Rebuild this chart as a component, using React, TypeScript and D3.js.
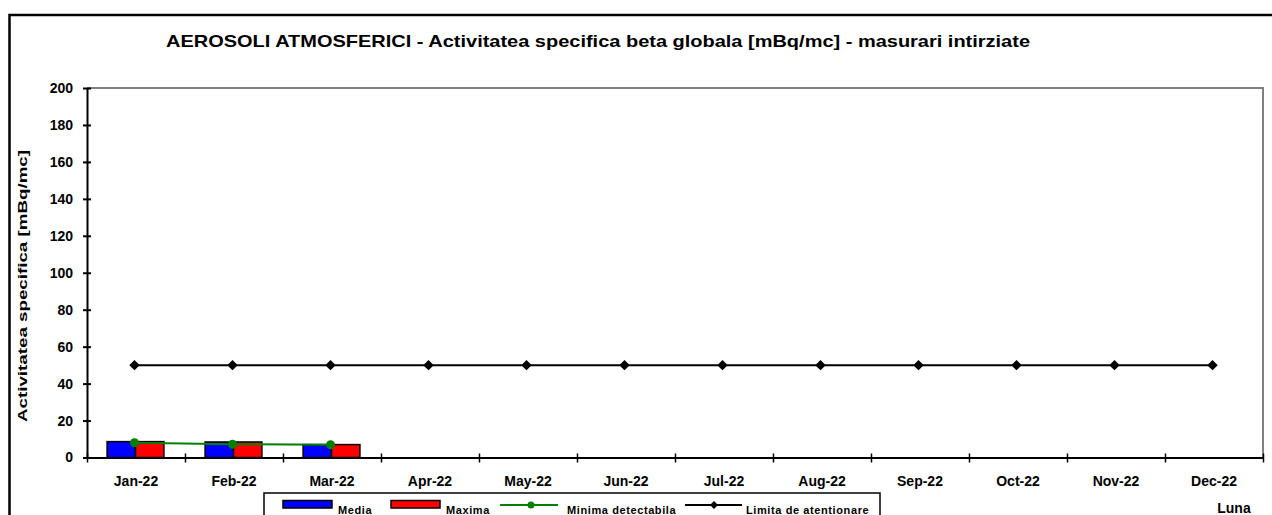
import { useEffect, useRef } from "react";
import * as d3 from "d3";

const months = ["Jan-22", "Feb-22", "Mar-22", "Apr-22", "May-22", "Jun-22", "Jul-22", "Aug-22", "Sep-22", "Oct-22", "Nov-22", "Dec-22"];
const media = [8.6, 8.4, 7.0];
const maxima = [8.6, 8.4, 7.0];
const minimaDetectabila = [8.0, 7.2, 6.9];
const limita = [50, 50, 50, 50, 50, 50, 50, 50, 50, 50, 50, 50];
const yTicks = [0, 20, 40, 60, 80, 100, 120, 140, 160, 180, 200];

const FONT = "Arial, 'Liberation Sans', sans-serif";

const App = () => {
  const svgRef = useRef<SVGSVGElement | null>(null);
  const W = 1272;
  const H = 515;
  const plot = { left: 87, right: 1263, top: 88, bottom: 457.5 };

  useEffect(() => {
    const svg = d3.select(svgRef.current);
    svg.selectAll("*").remove();

    svg.append("rect").attr("width", W).attr("height", H).attr("fill", "#fff");

    // outer chart border
    svg.append("rect")
      .attr("x", 9.5).attr("y", 15)
      .attr("width", W + 20).attr("height", H + 20)
      .attr("fill", "none").attr("stroke", "#000").attr("stroke-width", 2.5);

    const x = d3.scaleBand().domain(months).range([plot.left, plot.right]).paddingInner(0).paddingOuter(0);
    const inner = d3.scaleBand().domain(["media", "maxima"]).range([x.bandwidth() * 0.205, x.bandwidth() * 0.785]);
    const y = d3.scaleLinear().domain([0, 200]).range([plot.bottom, plot.top]);

    // plot area frame (grey top + right)
    svg.append("path")
      .attr("d", `M${plot.left},${plot.top}H${plot.right}V${plot.bottom}`)
      .attr("fill", "none").attr("stroke", "#808080").attr("stroke-width", 2);

    // title
    svg.append("text")
      .attr("x", 166).attr("y", 47)
      .attr("font-family", FONT).attr("font-weight", "bold").attr("font-size", 17)
      .attr("textLength", 864).attr("lengthAdjust", "spacingAndGlyphs")
      .text("AEROSOLI  ATMOSFERICI - Activitatea specifica beta globala [mBq/mc] - masurari intirziate");

    // y label
    svg.append("text")
      .attr("transform", "translate(27,286) rotate(-90)")
      .attr("text-anchor", "middle")
      .attr("font-family", FONT).attr("font-weight", "bold").attr("font-size", 13)
      .attr("textLength", 272).attr("lengthAdjust", "spacingAndGlyphs")
      .text("Activitatea  specifica  [mBq/mc]");

    // bars
    const bars = svg.append("g");
    media.forEach((v, i) => {
      bars.append("rect")
        .attr("x", x(months[i])! + inner("media")!)
        .attr("y", y(v)).attr("width", inner.bandwidth()).attr("height", y(0) - y(v))
        .attr("fill", "#0000FF").attr("stroke", "#000").attr("stroke-width", 1.5);
    });
    maxima.forEach((v, i) => {
      bars.append("rect")
        .attr("x", x(months[i])! + inner("maxima")!)
        .attr("y", y(v)).attr("width", inner.bandwidth()).attr("height", y(0) - y(v))
        .attr("fill", "#FF0000").attr("stroke", "#000").attr("stroke-width", 1.5);
    });

    const cx = (i: number) => x(months[i])! + x.bandwidth() / 2 - 1.5;

    // limita de atentionare
    const line = d3.line<number>().x((_, i) => cx(i)).y(d => y(d));
    svg.append("path").attr("d", line(limita)!).attr("fill", "none").attr("stroke", "#000").attr("stroke-width", 2);
    svg.append("g").selectAll("path").data(limita).join("path")
      .attr("d", d3.symbol(d3.symbolDiamond2, 70)() as string)
      .attr("transform", (d, i) => `translate(${cx(i)},${y(d)})`)
      .attr("fill", "#000");

    // minima detectabila
    svg.append("path").attr("d", line(minimaDetectabila)!).attr("fill", "none").attr("stroke", "#008000").attr("stroke-width", 2);
    svg.append("g").selectAll("circle").data(minimaDetectabila).join("circle")
      .attr("cx", (d, i) => cx(i)).attr("cy", d => y(d)).attr("r", 4.5).attr("fill", "#008000");

    // y axis
    const yAxis = svg.append("g").attr("transform", `translate(${plot.left},0)`)
      .call(d3.axisLeft(y).tickValues(yTicks).tickSize(4).tickSizeOuter(0).tickPadding(10));
    yAxis.select(".domain").attr("stroke", "#000").attr("stroke-width", 2);
    yAxis.selectAll(".tick line").attr("x2", 4).attr("x1", -4).attr("stroke-width", 2);
    yAxis.selectAll(".tick text")
      .attr("font-family", FONT).attr("font-weight", "bold").attr("font-size", 14).attr("fill", "#000");

    // x axis
    const xLin = d3.scaleLinear().domain([0, months.length]).range([plot.left, plot.right]);
    const xAxis = svg.append("g").attr("transform", `translate(0,${plot.bottom})`)
      .call(d3.axisBottom(xLin).ticks(months.length).tickValues(d3.range(months.length + 1)).tickFormat(() => "").tickSize(4).tickSizeOuter(0));
    xAxis.select(".domain").attr("stroke", "#000").attr("stroke-width", 2);
    xAxis.selectAll(".tick line").attr("y1", -4).attr("y2", 5).attr("stroke-width", 1.5);

    svg.append("g").selectAll("text").data(months).join("text")
      .attr("x", d => x(d)! + x.bandwidth() / 2)
      .attr("y", 486)
      .attr("text-anchor", "middle")
      .attr("font-family", FONT).attr("font-weight", "bold").attr("font-size", 14)
      .text(d => d);

    svg.append("text")
      .attr("x", 1234).attr("y", 513).attr("text-anchor", "middle")
      .attr("font-family", FONT).attr("font-weight", "bold").attr("font-size", 14)
      .text("Luna");

    // legend
    const lg = svg.append("g");
    lg.append("rect").attr("x", 264).attr("y", 493).attr("width", 616).attr("height", 40)
      .attr("fill", "#fff").attr("stroke", "#000").attr("stroke-width", 1.5);
    const legendFont = (t: d3.Selection<SVGTextElement, unknown, null, undefined>) =>
      t.attr("font-family", FONT).attr("font-weight", "bold").attr("font-size", 11).attr("letter-spacing", 0.6);

    lg.append("rect").attr("x", 283).attr("y", 500.5).attr("width", 49).attr("height", 7.5)
      .attr("fill", "#0000FF").attr("stroke", "#000").attr("stroke-width", 1.5);
    lg.append("text").attr("x", 338).attr("y", 514).call(legendFont).text("Media");

    lg.append("rect").attr("x", 391).attr("y", 500.5).attr("width", 49).attr("height", 7.5)
      .attr("fill", "#FF0000").attr("stroke", "#000").attr("stroke-width", 1.5);
    lg.append("text").attr("x", 446).attr("y", 514).call(legendFont).text("Maxima");

    lg.append("line").attr("x1", 500).attr("x2", 558).attr("y1", 505).attr("y2", 505).attr("stroke", "#008000").attr("stroke-width", 2);
    lg.append("circle").attr("cx", 531).attr("cy", 505).attr("r", 3.5).attr("fill", "#008000");
    lg.append("text").attr("x", 567).attr("y", 514).call(legendFont).text("Minima detectabila");

    lg.append("line").attr("x1", 685).attr("x2", 742).attr("y1", 505).attr("y2", 505).attr("stroke", "#000").attr("stroke-width", 2);
    lg.append("path").attr("d", d3.symbol(d3.symbolDiamond2, 40)() as string).attr("transform", "translate(714,505)").attr("fill", "#000");
    lg.append("text").attr("x", 746).attr("y", 514).call(legendFont).text("Limita de atentionare");
  }, []);

  return (
    <svg ref={svgRef} width={W} height={H} style={{ position: "absolute", left: 0, top: 0, display: "block" }} />
  );
};

export default App;
